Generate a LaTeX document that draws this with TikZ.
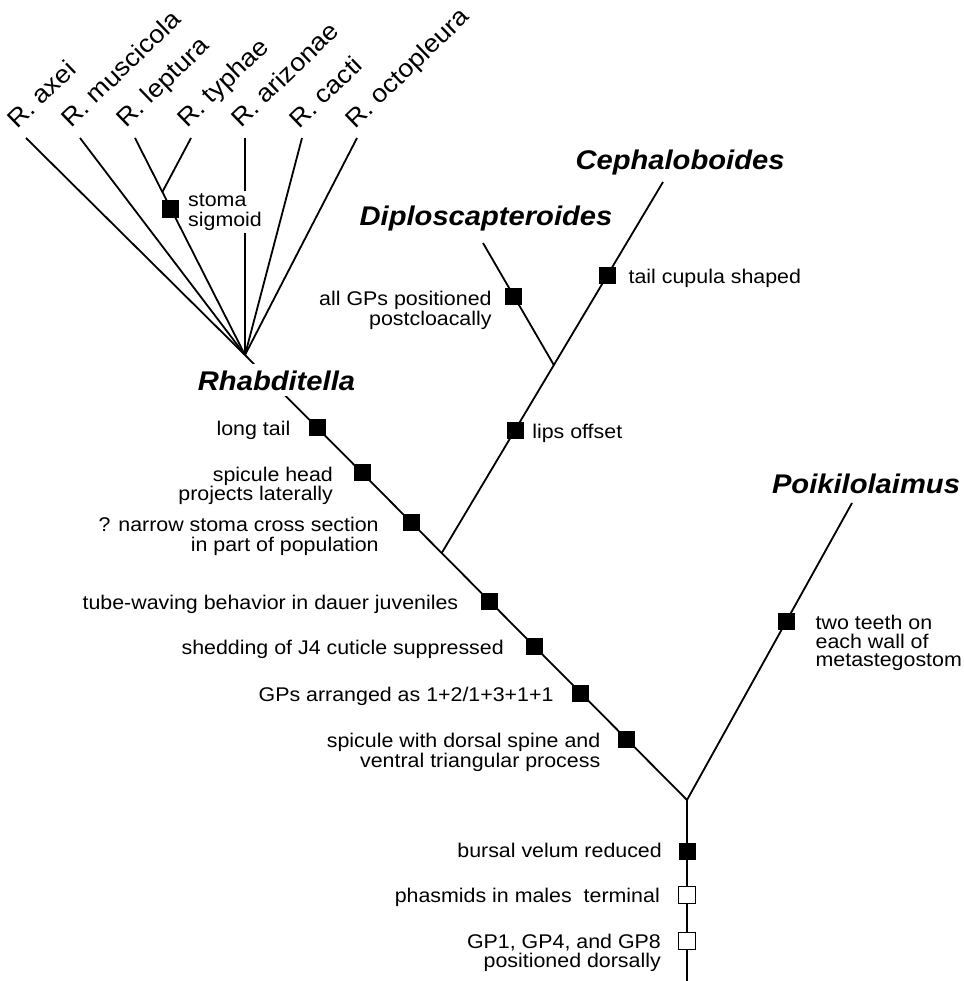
\documentclass[tikz,border=0pt]{standalone}
\usepackage{fontspec}
\setmainfont[FakeStretch=1.08]{Liberation Sans}
\usetikzlibrary{calc}
\pgfdeclarelayer{bg}
\pgfsetlayers{bg,main}
\tikzset{
 branch/.style={line width=1.8pt},
 fbox/.style={fill=black, minimum size=17pt, inner sep=0pt, outer sep=0pt},
 obox/.style={fill=white, draw=black, line width=1.3pt, minimum size=16.5pt, inner sep=0pt},
 lab/.style={font=\fontsize{19.8}{19.5}\selectfont, inner sep=0pt},
 taxon/.style={font=\fontsize{27}{30}\selectfont\bfseries\itshape, inner sep=0pt},
 species/.style={font=\fontsize{25}{26}\selectfont, inner sep=0pt, rotate=44, anchor=base west},
}
\begin{document}
\begin{tikzpicture}[x=1pt,y=-1pt]
\useasboundingbox (0,0) rectangle (963,981);
\coordinate (J1) at (245,355);
\coordinate (root) at (687,800);
\coordinate (bot) at (687,981);
\coordinate (tAx) at (26,138);
\coordinate (tMu) at (80,138);
\coordinate (tLe) at (135,138);
\coordinate (tTy) at (191,138);
\coordinate (tAr) at (245,138);
\coordinate (tCa) at (302,138);
\coordinate (tOc) at (357,138);
\coordinate (JLT) at ($(J1)!0.7512!(tLe)$);
\coordinate (B) at ($(J1)!0.445!(root)$);
\coordinate (C) at (663,182);
\coordinate (J3) at ($(B)!0.5067!(C)$);
\coordinate (D) at (483,243);
\coordinate (P) at (852,503);

% species
\node[species] (sAx) at (17,130) {R. axei};
\node[species] (sMu) at (71,129) {R. muscicola};
\node[species] (sLe) at (126,129) {R. leptura};
\node[species] (sTy) at (187,129) {R. typhae};
\node[species] (sAr) at (241,129) {R. arizonae};
\node[species] (sCa) at (299,130) {R. cacti};
\node[species] (sOc) at (355,130) {R. octopleura};

% taxa
\node[taxon, fill=white, inner sep=6pt, anchor=base] (Rh) at (276.5,390) {Rhabditella};
\node[taxon, anchor=base] (Di) at (486,226) {Diploscapteroides};
\node[taxon, anchor=base] (Ce) at (680,170) {Cephaloboides};
\node[taxon, anchor=base] (Po) at (866,493) {Poikilolaimus};

% character boxes
\node[fbox] (bSt) at ($(J1)!0.6728!(tLe)$) {};
\node[fbox] (bLong) at ($(J1)!0.164!(root)$) {};
\node[fbox] (bSpH) at ($(J1)!0.265!(root)$) {};
\node[fbox] (bNar) at ($(J1)!0.3775!(root)$) {};
\node[fbox] (bTube) at ($(J1)!0.553!(root)$) {};
\node[fbox] (bShed) at ($(J1)!0.656!(root)$) {};
\node[fbox] (bGPa) at ($(J1)!0.7596!(root)$) {};
\node[fbox] (bSpD) at ($(J1)!0.863!(root)$) {};
\node[fbox] (bLips) at ($(B)!0.3315!(C)$) {};
\node[fbox] (bTail) at ($(B)!0.749!(C)$) {};
\node[fbox] (bGPs) at ($(J3)!0.5656!(D)$) {};
\node[fbox] (bTeeth) at ($(root)!0.6027!(P)$) {};
\node[fbox] (bBurs) at (687,851) {};
\node[obox] (bPhas) at (687,895) {};
\node[obox] (bGP1) at (687,941) {};

% character labels
\node[lab, anchor=west, fill=white, inner sep=3pt, align=left] (lSt) at ([xshift=14pt,yshift=-3pt]bSt.center) {stoma\\sigmoid};
\node[lab, anchor=base east] (lLong) at ([xshift=-27pt,yshift=-8pt]bLong.center) {long tail};
\node[lab, anchor=north east, align=right] (lSpH) at ([xshift=-29pt,yshift=6pt]bSpH.center) {spicule head\\projects laterally};
\node[lab, anchor=north east, align=right] (lNar) at ([xshift=-33pt,yshift=6pt]bNar.center) {? narrow stoma cross section\\in part of population};
\node[lab, anchor=base east] (lTube) at ([xshift=-31pt,yshift=-8pt]bTube.center) {tube-waving behavior in dauer juveniles};
\node[lab, anchor=base east] (lShed) at ([xshift=-31pt,yshift=-8pt]bShed.center) {shedding of J4 cuticle suppressed};
\node[lab, anchor=base east] (lGPa) at ([xshift=-27pt,yshift=-8pt]bGPa.center) {GPs arranged as 1+2/1+3+1+1};
\node[lab, anchor=north east, align=right] (lSpD) at ([xshift=-26pt,yshift=6pt]bSpD.center) {spicule with dorsal spine and\\ventral triangular process};
\node[lab, anchor=north east, align=right] (lGPs) at ([xshift=-22pt,yshift=5pt]bGPs.center) {all GPs positioned\\postcloacally};
\node[lab, anchor=base west] (lTail) at ([xshift=21pt,yshift=-8pt]bTail.center) {tail cupula shaped};
\node[lab, anchor=base west] (lLips) at ([xshift=17pt,yshift=-8pt]bLips.center) {lips offset};
\node[lab, font=\fontsize{19.8}{18.5}\selectfont, anchor=north west, align=left] (lTeeth) at ([xshift=29pt,yshift=6pt]bTeeth.center) {two teeth on\\each wall of\\metastegostom};
\node[lab, anchor=base east] (lBurs) at ([xshift=-25pt,yshift=-6pt]bBurs.center) {bursal velum reduced};
\node[lab, anchor=base east] (lPhas) at ([xshift=-27pt,yshift=-7pt]bPhas.center) {phasmids in males\ \ terminal};
\node[lab, anchor=north east, align=right] (lGP1) at ([xshift=-26pt,yshift=7.5pt]bGP1.center) {GP1, GP4, and GP8\\positioned dorsally};

\begin{pgfonlayer}{bg}
\draw[branch] (tAx) -- (J1);
\draw[branch] (tMu) -- (J1);
\draw[branch] (tLe) -- (J1);
\draw[branch] (tTy) -- (JLT);
\draw[branch] (tAr) -- (J1);
\draw[branch] (tCa) -- (J1);
\draw[branch] (tOc) -- (J1);
\draw[branch] (J1) -- (root) -- (bot);
\draw[branch] (B) -- (C);
\draw[branch] (J3) -- (D);
\draw[branch] (root) -- (P);
\end{pgfonlayer}
\end{tikzpicture}
\end{document}
